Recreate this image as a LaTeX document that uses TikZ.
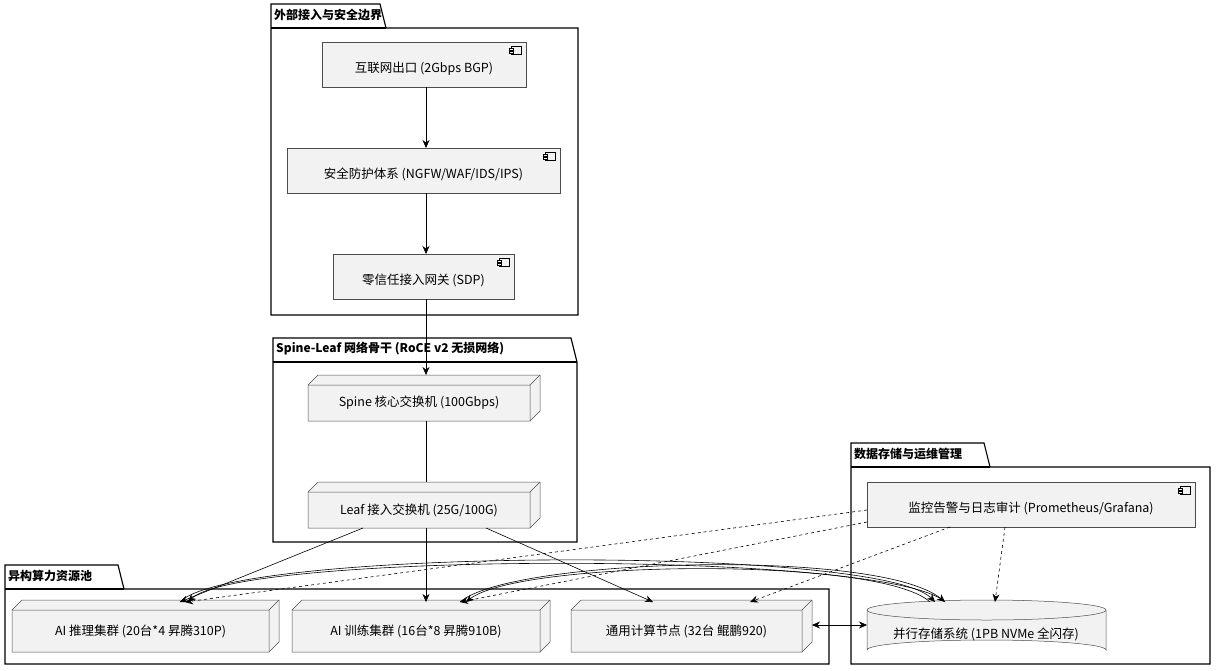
\documentclass[tikz,border=0pt]{standalone}
\usepackage{fontspec}
\setmainfont{Noto Sans CJK SC}
\usetikzlibrary{arrows.meta}
\begin{document}
\begin{tikzpicture}[x=1pt,y=-1pt,
  pkg/.style={draw=black,line width=1.1pt},
  comp/.style={draw=black!70,fill=black!5,line width=0.5pt},
  lbl/.style={font=\fontsize{12.5}{14}\selectfont,inner sep=0},
  tab/.style={font=\bfseries\fontsize{12}{14}\selectfont,inner sep=0,anchor=west},
  arr/.style={-{Stealth[length=8pt,width=7pt]},line width=0.6pt},
  darr/.style={arr,dashed}]
\useasboundingbox (0,0) rectangle (1216,670);
% packages
\newcommand{\pkgbox}[6]{% x1 y1 x2 y2 tabright label
  \draw[pkg] (#1,#2+24) -- (#1,#2) -- (#5-6,#2) -- (#5,#2+24) -- (#3,#2+24) -- (#3,#4) -- (#1,#4) -- cycle;
  \draw[pkg] (#1,#2+24) -- (#5,#2+24);
  \node[tab] at (#1+3,#2+11) {#6};}
\pkgbox{271}{4}{578}{315}{386}{外部接入与安全边界}
\pkgbox{273}{338}{577}{542}{577}{Spine-Leaf 网络骨干 (RoCE v2 无损网络)}
\pkgbox{5}{565}{829}{664}{124}{异构算力资源池}
\pkgbox{851}{443}{1210}{664}{990}{数据存储与运维管理}
% components
\newcommand{\compbox}[6]{%
  \draw[comp] (#2,#3) rectangle (#4,#5);
  \node[lbl] (#1) at ({(#2+#4)/2},{(#3+#5)/2+4}) {#6};
  \coordinate (#1n) at (426,#3);
  \coordinate (#1s) at (426,#5);
  \draw[line width=0.4pt,fill=black!5] (#4-15,#3+4) rectangle (#4-5,#3+12);
  \draw[line width=0.4pt,fill=black!5] (#4-17,#3+6) rectangle (#4-13,#3+8);
  \draw[line width=0.4pt,fill=black!5] (#4-17,#3+9) rectangle (#4-13,#3+11);}
\compbox{inet}{322}{42}{526}{87}{互联网出口 (2Gbps BGP)}
\compbox{sec}{287}{148}{560}{193}{安全防护体系 (NGFW/WAF/IDS/IPS)}
\compbox{sdp}{333}{254}{514}{299}{零信任接入网关 (SDP)}
\compbox{mon}{867}{482}{1195}{527}{监控告警与日志审计 (Prometheus/Grafana)}
% 3D nodes
\newcommand{\nodebox}[6]{%
  \draw[comp] (#2,#3+10) -- (#2+10,#3) -- (#4,#3) -- (#4,#5-10) -- (#4-10,#5) -- (#2,#5) -- cycle;
  \draw[line width=0.5pt,draw=black!70] (#2,#3+10) -- (#4-10,#3+10) -- (#4,#3) (#4-10,#3+10) -- (#4-10,#5);
  \node[lbl] (#1) at ({(#2+#4-10)/2},{(#3+10+#5)/2}) {#6};
  \coordinate (#1n) at (426,#3);}
\nodebox{spine}{308}{375}{540}{421}{Spine 核心交换机 (100Gbps)}
\nodebox{leaf}{308}{482}{540}{528}{Leaf 接入交换机 (25G/100G)}
\nodebox{inf}{12}{600}{279}{652}{AI 推理集群 (20台*4 昇腾310P)}
\nodebox{trn}{292}{600}{550}{652}{AI 训练集群 (16台*8 昇腾910B)}
\nodebox{gen}{571}{600}{812}{652}{通用计算节点 (32台 鲲鹏920)}
% storage cylinder
\draw[comp] (867,610) arc[start angle=180,end angle=360,x radius=119.5,y radius=10] -- (1106,650) arc[start angle=0,end angle=-180,x radius=119.5,y radius=10] -- cycle;
\draw[line width=0.5pt,draw=black!70] (867,610) arc[start angle=180,end angle=0,x radius=119.5,y radius=10];
\node[lbl] (sto) at (986,634) {并行存储系统 (1PB NVMe 全闪存)};
\coordinate (stoW) at (867,625);
\coordinate (genE) at (812,625);
% connectors
\draw[arr] (inets) -- (secn);
\draw[arr] (secs) -- (sdpn);
\draw[arr] (sdps) -- (spinen);
\draw[line width=0.6pt] (426,421) -- (leafn);
\draw[arr] (363,528) -- (180,602);
\draw[arr] (426,528) -- (426,602);
\draw[arr] (486,528) -- (653,602);
\draw[darr] (867,510) -- (185,602);
\draw[darr] (867,522) -- (460,602);
\draw[darr] (950,527) -- (750,602);
\draw[darr] (1005,527) -- (995,602);
\draw[arr] (180,602) .. controls (230,548) and (880,545) .. (935,602);
\draw[arr] (945,602) .. controls (890,550) and (240,552) .. (188,602);
\draw[arr] (460,602) .. controls (510,558) and (880,548) .. (945,602);
\draw[arr] (930,602) .. controls (880,556) and (520,560) .. (466,602);
\draw[{Stealth[length=8pt,width=7pt]}-{Stealth[length=8pt,width=7pt]},line width=0.6pt] (genE) -- (stoW);
\end{tikzpicture}
\end{document}
